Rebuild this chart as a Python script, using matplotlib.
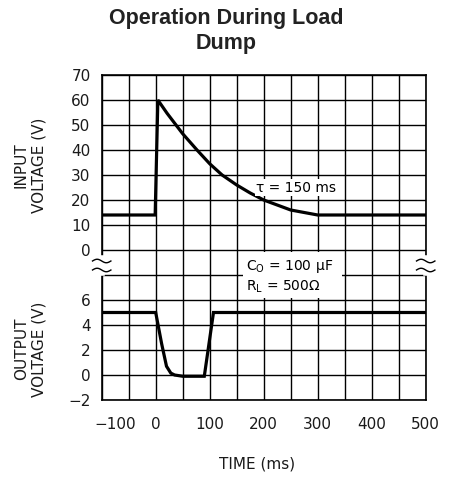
import matplotlib.pyplot as plt
import matplotlib.transforms as mtransforms
import numpy as np

# input voltage trace (V)
time_in = [-100, -1, 4, 21, 37.6, 50, 76.5, 100, 123, 150, 175, 200, 250, 300, 500]
v_in = [14, 14, 60, 54.7, 50, 46.5, 40, 34.5, 30, 26, 22.8, 20, 16, 14, 14]

# output voltage trace (V)
time_out = [-100, 0, 11, 20, 28, 35, 50, 90, 107, 500]
v_out = [5, 5, 2.5, 0.7, 0.15, 0, -0.1, -0.1, 5, 5]

x_ticks = [-100, 0, 100, 200, 300, 400, 500]
x_labels = ['\u2212100', '0', '100', '200', '300', '400', '500']
y_labels = ['\u22122', '0', '2', '4', '6', '', '0', '10', '20', '30', '40', '50', '60', '70']

# output axis sits under the input one: out V -> shared grid units
OUT_OFFSET = -50
OUT_SCALE = 5


def out_to_grid(v):
    return OUT_OFFSET + OUT_SCALE * np.asarray(v)


fig = plt.figure(figsize=(4.49, 4.78), dpi=100)
ax = fig.add_axes([101.7 / 449, 1 - 400 / 478, 324 / 449, 325 / 478])

ax.plot(time_in, v_in, color='black', lw=2.3, solid_joinstyle='miter', zorder=4)
ax.plot(time_out, out_to_grid(v_out), color='black', lw=2.3, solid_joinstyle='miter', zorder=4)

ax.set_xlim(-100, 500)
ax.set_ylim(-60, 70)
ax.set_xticks(x_ticks)
ax.set_xticklabels(x_labels)
ax.set_xticks(np.arange(-50, 500, 100), minor=True)
ax.set_yticks(np.arange(-60, 71, 10))
ax.set_yticklabels(y_labels)
ax.grid(True, which='both', color='black', lw=1.0, zorder=1)
ax.set_axisbelow(True)
for sp in ax.spines.values():
    sp.set_linewidth(1.2)

ax.tick_params(axis='both', which='both', length=0, labelsize=11, labelcolor='#1a1a1a')
ax.tick_params(axis='x', pad=12)
ax.tick_params(axis='y', pad=8)

# nudge the -100 label right like the original
lab = ax.get_xticklabels()[0]
lab.set_transform(lab.get_transform() + mtransforms.ScaledTranslation(0.14, 0, fig.dpi_scale_trans))

# axis break marks on both sides
for x0 in (-100, 500):
    ax.plot([x0, x0], [-3, -9.2], color='white', lw=4, clip_on=False, zorder=5)
    s = np.linspace(-1, 1, 40)
    for yc in (-4.4, -8.0):
        ax.plot(x0 + s * 17, yc - 0.7 * np.sin(np.pi * s), color='black', lw=1.0,
                clip_on=False, zorder=6)

ax.text(260, 25, '\u03c4 = 150 ms', ha='center', va='center', fontsize=10,
        bbox=dict(facecolor='white', edgecolor='none', pad=1), zorder=5)

ax.add_patch(plt.Rectangle((161.7, -19.2), 183.3, 18.4, facecolor='white',
                           edgecolor='none', zorder=3))
ax.text(168, -6.7, 'C$_{\\rm O}$ = 100 \u03bcF', ha='left', va='center', fontsize=10, zorder=5)
ax.text(168, -14.7, 'R$_{\\rm L}$ = 500\u03a9', ha='left', va='center', fontsize=10, zorder=5)

fig.text(30 / 449, 1 - 165 / 478, 'INPUT\nVOLTAGE (V)', rotation=90, ha='center',
         va='center', fontsize=11, color='#1a1a1a')
fig.text(30 / 449, 1 - 349 / 478, 'OUTPUT\nVOLTAGE (V)', rotation=90, ha='center',
         va='center', fontsize=11, color='#1a1a1a')
fig.text(257 / 449, 1 - 464 / 478, 'TIME (ms)', ha='center', va='center',
         fontsize=11, color='#1a1a1a')

fig.text(226 / 449, 1 - 31 / 478, 'Operation During Load\nDump', ha='center', va='center',
         fontsize=15.5, fontweight='bold', family=['Liberation Sans', 'DejaVu Sans'],
         linespacing=1.25, color='#222222')

fig.savefig('out.png', dpi=100)
